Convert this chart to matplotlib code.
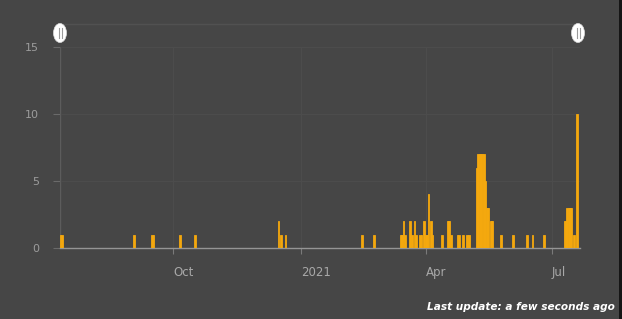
import matplotlib
matplotlib.use("Agg")
import matplotlib.pyplot as plt
from matplotlib.patches import Ellipse, Rectangle
from matplotlib.lines import Line2D
import datetime as dt

# ---- data ----
dates = [
    "2020-07-12", "2020-07-13", "2020-09-03", "2020-09-16", "2020-09-17",
    "2020-10-06", "2020-10-17", "2020-12-16", "2020-12-18", "2020-12-21",
    "2021-02-14", "2021-02-23",
    "2021-03-14", "2021-03-15", "2021-03-16", "2021-03-17",
    "2021-03-21", "2021-03-22", "2021-03-24", "2021-03-25",
    "2021-03-28", "2021-03-29", "2021-03-31", "2021-04-01",
    "2021-04-02", "2021-04-03", "2021-04-05", "2021-04-06",
    "2021-04-13", "2021-04-17", "2021-04-18", "2021-04-19",
    "2021-04-24", "2021-04-25", "2021-04-28", "2021-05-01", "2021-05-02",
    "2021-05-08", "2021-05-09", "2021-05-10", "2021-05-11", "2021-05-12",
    "2021-05-13", "2021-05-14", "2021-05-15", "2021-05-16", "2021-05-18",
    "2021-05-19", "2021-05-25", "2021-06-03", "2021-06-13", "2021-06-17",
    "2021-06-25", "2021-07-10", "2021-07-11", "2021-07-12", "2021-07-13",
    "2021-07-14", "2021-07-15", "2021-07-17", "2021-07-19",
]
values = [
    1, 1, 1, 1, 1,
    1, 1, 2, 1, 1,
    1, 1,
    1, 1, 2, 1,
    2, 1, 2, 1,
    1, 1, 2, 1,
    1, 4, 2, 1,
    1, 2, 2, 1,
    1, 1, 1, 1, 1,
    6, 7, 7, 7, 7,
    7, 5, 3, 3, 2,
    2, 1, 1, 1, 1,
    1, 2, 2, 3, 3,
    3, 3, 1, 10,
]
tick_dates = ["2020-10-01", "2021-01-01", "2021-04-01", "2021-07-01"]
tick_labels = ["Oct", "2021", "Apr", "Jul"]
y_ticks = [0, 5, 10, 15]
update_text = "Last update: a few seconds ago"

# ---- style ----
BG = "#464646"
BAR = "#f4a80e"
W, H = 622, 319

fig = plt.figure(figsize=(W / 100, H / 100), dpi=100, facecolor=BG)
ax = fig.add_axes([60 / W, (H - 248) / H, 520 / W, (248 - 47) / H])
ax.set_facecolor(BG)

d = [dt.datetime.strptime(s, "%Y-%m-%d") for s in dates]
ax.bar(d, values, width=1.3, color=BAR, edgecolor=BAR, linewidth=0.6, zorder=3)

oct1 = dt.datetime(2020, 10, 1)
ax.set_xlim(oct1 - dt.timedelta(days=81.4), oct1 + dt.timedelta(days=293.2))
ax.set_ylim(0, 15)

for s in ["top", "right", "left"]:
    ax.spines[s].set_visible(False)
ax.spines["bottom"].set_color("#959595")
ax.spines["bottom"].set_linewidth(1.0)

ax.set_yticks(y_ticks)
ax.set_yticklabels([str(v) for v in y_ticks])
ax.tick_params(axis="y", colors="#6a6a6a", length=5, width=0.8, labelcolor="#9c9c9c",
               labelsize=8, pad=10)
ax.grid(axis="y", color="#4c4c4c", linewidth=0.8, zorder=0)

td = [dt.datetime.strptime(s, "%Y-%m-%d") for s in tick_dates]
ax.set_xticks(td)
ax.set_xticklabels(tick_labels)
ax.tick_params(axis="x", colors="#7a7a7a", length=4, width=0.8, labelcolor="#a8a8a8",
               labelsize=8.5, pad=9)
for lab in ax.get_xticklabels():
    lab.set_horizontalalignment("left")
for x in td:
    ax.axvline(x, color="#4c4c4c", linewidth=0.8, zorder=0)

# y axis line (navigator edge)
ax.axvline(ax.get_xlim()[0], color="#5c5c5c", linewidth=1.0, zorder=1)

# navigator top line
fig.add_artist(Line2D([60 / W, 578 / W], [(H - 24) / H, (H - 24) / H],
                      color="#515151", linewidth=1.0))

# handles
for hx in (60, 578):
    e = Ellipse((hx / W, (H - 33) / H), 13 / W, 19 / H, transform=fig.transFigure,
                facecolor="white", edgecolor="#dddddd", linewidth=0.5, zorder=10)
    fig.add_artist(e)
    for off in (-1.5, 1.5):
        fig.add_artist(Line2D([(hx + off) / W] * 2, [(H - 28) / H, (H - 38) / H],
                              color="#9a9a9a", linewidth=0.8, zorder=11))

# right dark strip
fig.add_artist(Rectangle((619 / W, 0), 3 / W, 1, transform=fig.transFigure,
                         facecolor="#151515", edgecolor="none"))

fig.text(615 / W, (H - 307) / H, update_text, color="white", fontsize=7.6,
         style="italic", fontweight="semibold", ha="right", va="center")

fig.savefig("out.png", dpi=100, facecolor=BG)
